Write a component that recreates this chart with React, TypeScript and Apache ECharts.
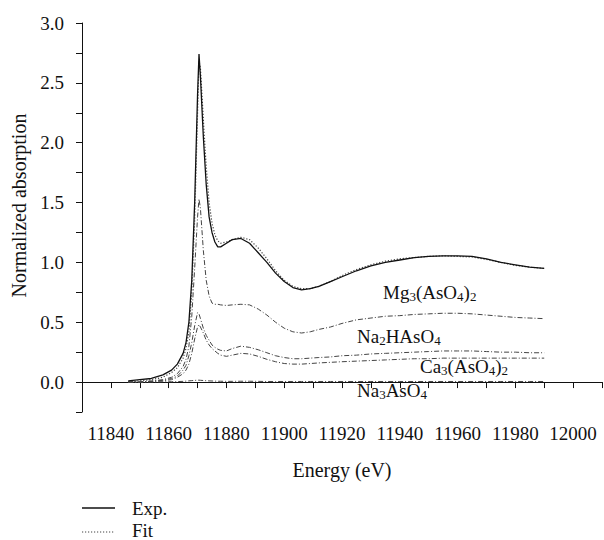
import React, { useEffect, useRef } from "react";
import * as echarts from "echarts";

const energy = [11846, 11850, 11854, 11858, 11861, 11863, 11865, 11866, 11867, 11868, 11869, 11870, 11870.5, 11871, 11872, 11873, 11874, 11875, 11876, 11877, 11878, 11880, 11882, 11885, 11888, 11891, 11894, 11897, 11900, 11903, 11906, 11909, 11912, 11916, 11920, 11925, 11930, 11935, 11940, 11945, 11950, 11955, 11960, 11965, 11970, 11975, 11980, 11985, 11990];

const expData = [0.01, 0.02, 0.03, 0.06, 0.1, 0.15, 0.24, 0.33, 0.5, 0.85, 1.5, 2.4, 2.74, 2.55, 2.05, 1.65, 1.38, 1.25, 1.17, 1.13, 1.13, 1.16, 1.19, 1.2, 1.16, 1.08, 1.0, 0.91, 0.84, 0.79, 0.77, 0.78, 0.8, 0.84, 0.88, 0.93, 0.97, 1.0, 1.02, 1.04, 1.05, 1.055, 1.055, 1.05, 1.03, 1.0, 0.98, 0.96, 0.95];

const fitData = [0.0, 0.01, 0.02, 0.04, 0.08, 0.12, 0.2, 0.28, 0.42, 0.75, 1.35, 2.25, 2.68, 2.62, 2.2, 1.8, 1.5, 1.33, 1.23, 1.18, 1.16, 1.17, 1.19, 1.21, 1.19, 1.12, 1.03, 0.93, 0.85, 0.8, 0.78, 0.78, 0.8, 0.84, 0.89, 0.94, 0.98, 1.01, 1.03, 1.04, 1.05, 1.055, 1.05, 1.045, 1.025, 1.0, 0.975, 0.96, 0.95];

const mgData = [0.0, 0.0, 0.01, 0.02, 0.04, 0.07, 0.13, 0.19, 0.3, 0.55, 0.95, 1.38, 1.53, 1.45, 1.1, 0.85, 0.72, 0.66, 0.65, 0.65, 0.645, 0.64, 0.645, 0.65, 0.645, 0.61, 0.56, 0.5, 0.45, 0.42, 0.41, 0.42, 0.44, 0.46, 0.49, 0.52, 0.535, 0.55, 0.555, 0.565, 0.57, 0.575, 0.575, 0.57, 0.56, 0.55, 0.54, 0.535, 0.53];

const naHData = [0.0, 0.0, 0.005, 0.015, 0.03, 0.05, 0.1, 0.14, 0.22, 0.33, 0.47, 0.58, 0.57, 0.53, 0.45, 0.39, 0.35, 0.31, 0.29, 0.275, 0.265, 0.26, 0.28, 0.3, 0.29, 0.27, 0.245, 0.22, 0.205, 0.195, 0.195, 0.2, 0.205, 0.21, 0.22, 0.225, 0.235, 0.24, 0.245, 0.25, 0.255, 0.26, 0.26, 0.26, 0.255, 0.25, 0.25, 0.245, 0.245];

const caData = [0.0, 0.0, 0.005, 0.01, 0.02, 0.04, 0.07, 0.1, 0.15, 0.24, 0.36, 0.46, 0.48, 0.46, 0.41, 0.35, 0.31, 0.28, 0.26, 0.24, 0.225, 0.215, 0.225, 0.24, 0.235, 0.215, 0.19, 0.17, 0.155, 0.15, 0.15, 0.155, 0.16, 0.165, 0.17, 0.175, 0.18, 0.185, 0.19, 0.195, 0.195, 0.2, 0.2, 0.2, 0.2, 0.2, 0.2, 0.2, 0.2];

const na3Data = [0.0, 0.0, 0.0, 0.002, 0.003, 0.004, 0.006, 0.008, 0.01, 0.012, 0.014, 0.016, 0.016, 0.015, 0.013, 0.011, 0.01, 0.009, 0.008, 0.007, 0.007, 0.006, 0.006, 0.007, 0.007, 0.006, 0.005, 0.005, 0.005, 0.005, 0.005, 0.005, 0.005, 0.005, 0.005, 0.005, 0.005, 0.005, 0.005, 0.005, 0.005, 0.005, 0.005, 0.005, 0.005, 0.005, 0.005, 0.005, 0.005];

const legendNames = ["Exp.", "Fit"];

const FONT = "Liberation Serif";

const pairs = (ys: number[]) => energy.map((e, i) => [e, ys[i]]);

const rich = {
  n: { fontFamily: FONT, fontSize: 19, lineHeight: 22, color: "#111" },
  s: { fontFamily: FONT, fontSize: 13, lineHeight: 22, verticalAlign: "bottom", color: "#111" },
};

const tickRich = { t: { fontFamily: FONT, fontSize: 19, color: "#111" } };
const nameRich = { t: { fontFamily: FONT, fontSize: 20, color: "#111" } };

const annot = (text: string, x: number, y: number) => ({
  type: "text",
  x,
  y,
  style: { text, rich, verticalAlign: "middle", align: "left", fill: "#111" },
});

export default function App() {
  const ref = useRef<HTMLDivElement>(null);
  useEffect(() => {
    if (!ref.current) return;
    document.body.style.margin = "0";
    const chart = echarts.init(ref.current, null, { renderer: "svg" });
    const compStyle = { color: "#444", width: 1, type: [5, 2, 1, 2] };
    chart.setOption({
      animation: false,
      backgroundColor: "#fff",
      textStyle: { fontFamily: FONT, color: "#111" },
      grid: { left: 82, right: 2, top: 23, bottom: 128, containLabel: false, outerBoundsMode: "none" },
      xAxis: {
        type: "value",
        min: 11830,
        max: 12010,
        interval: 10,
        name: "{t|Energy (eV)}",
        nameLocation: "middle",
        nameGap: 48,
        nameTextStyle: { fontFamily: FONT, fontSize: 20, color: "#111", rich: nameRich },
        axisLine: { lineStyle: { color: "#111", width: 1 } },
        axisTick: { length: 6, lineStyle: { color: "#111" } },
        splitLine: { show: false },
        axisLabel: {
          fontFamily: FONT,
          fontSize: 19,
          color: "#111",
          margin: 12,
          hideOverlap: false,
          rich: tickRich,
          formatter: (v: number) => (Math.round(v) % 20 === 0 && v >= 11840 ? `{t|${Math.round(v)}}` : ""),
        },
      },
      yAxis: {
        type: "value",
        min: -0.25,
        max: 3,
        interval: 0.25,
        name: "{t|Normalized absorption}",
        nameLocation: "middle",
        nameGap: 51,
        nameTextStyle: { fontFamily: FONT, fontSize: 20, color: "#111", padding: [0, 0, 0, 24], rich: nameRich },
        axisLine: { show: true, lineStyle: { color: "#111", width: 1 } },
        axisTick: { show: true, length: 6, lineStyle: { color: "#111" } },
        splitLine: { show: false },
        axisLabel: {
          fontFamily: FONT,
          fontSize: 19,
          color: "#111",
          margin: 18,
          rich: tickRich,
          formatter: (v: number) => {
            const k = v / 0.5;
            return v >= 0 && Math.abs(k - Math.round(k)) < 1e-6 ? `{t|${v.toFixed(1)}}` : "";
          },
        },
      },
      series: [
        { name: legendNames[0], type: "line", data: pairs(expData), symbol: "none", color: "#111", lineStyle: { color: "#111", width: 1.3 }, z: 5 },
        { name: legendNames[1], type: "line", data: pairs(fitData), symbol: "none", color: "#444", lineStyle: { color: "#444", width: 1.2, type: [1.2, 1.8] }, z: 4 },
        { name: "Mg3(AsO4)2", type: "line", data: pairs(mgData), symbol: "none", color: "#444", lineStyle: compStyle },
        { name: "Na2HAsO4", type: "line", data: pairs(naHData), symbol: "none", color: "#444", lineStyle: compStyle },
        { name: "Ca3(AsO4)2", type: "line", data: pairs(caData), symbol: "none", color: "#444", lineStyle: compStyle },
        { name: "Na3AsO4", type: "line", data: pairs(na3Data), symbol: "none", color: "#444", lineStyle: compStyle },
      ],
      graphic: [
        annot("{n|Mg}{s|3}{n|(AsO}{s|4}{n|)}{s|2}", 383, 292),
        annot("{n|Na}{s|2}{n|HAsO}{s|4}", 357, 336),
        annot("{n|Ca}{s|3}{n|(AsO}{s|4}{n|)}{s|2}", 420, 366),
        annot("{n|Na}{s|3}{n|AsO}{s|4}", 357, 390),
        { type: "line", shape: { x1: 82, y1: 508, x2: 115, y2: 508 }, style: { stroke: "#111", lineWidth: 1.3 } },
        { type: "text", x: 132, y: 508, style: { text: legendNames[0], font: `19px ${FONT}`, fill: "#111", verticalAlign: "middle" } },
        { type: "line", shape: { x1: 82, y1: 532, x2: 115, y2: 532 }, style: { stroke: "#444", lineWidth: 1.2, lineDash: [1.2, 1.8] } },
        { type: "text", x: 132, y: 530, style: { text: legendNames[1], font: `19px ${FONT}`, fill: "#111", verticalAlign: "middle" } },
      ],
    });
    return () => chart.dispose();
  }, []);
  return <div ref={ref} style={{ width: 604, height: 540 }} />;
}
